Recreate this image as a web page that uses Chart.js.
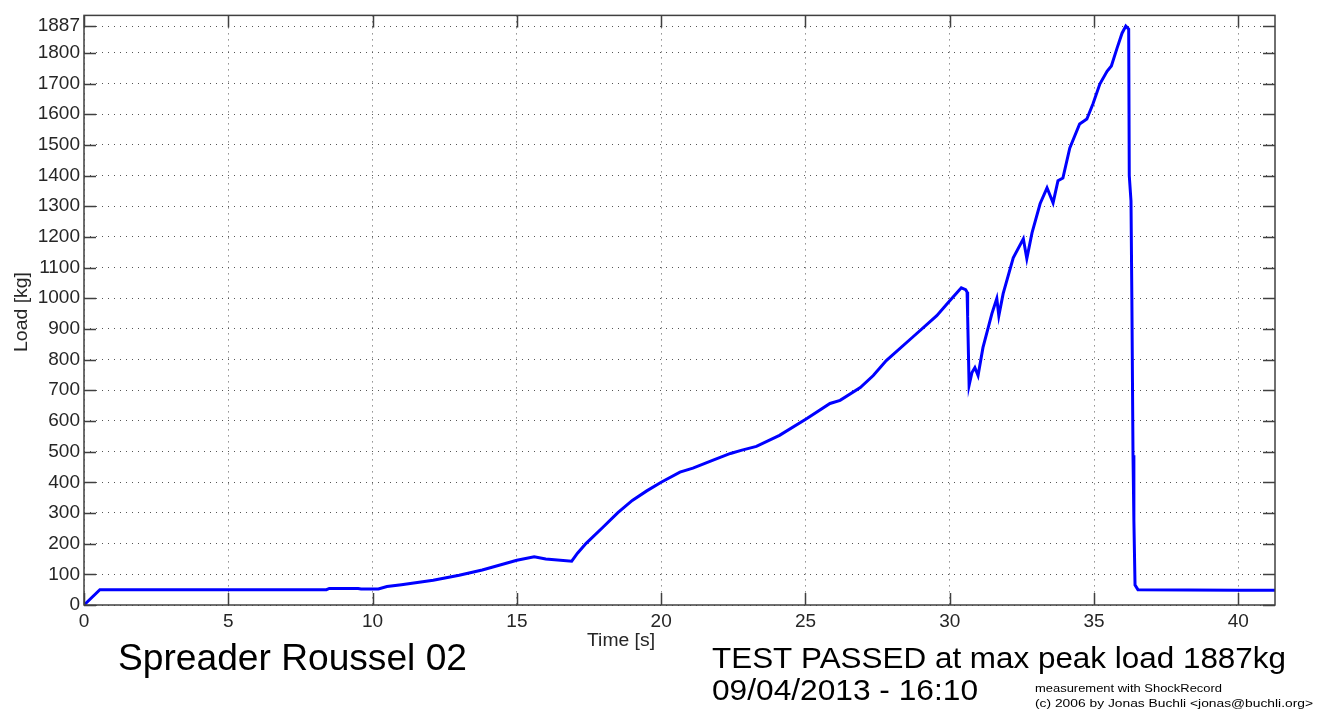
<!DOCTYPE html>
<html lang="en">
<head>
    <meta charset="UTF-8">
    <title>Spreader Roussel 02</title>
    <script src="https://cdn.jsdelivr.net/npm/chart.js"></script>
    <style>
        html, body { margin: 0; padding: 0; background: #fff; }
        #wrap { position: relative; width: 1317px; height: 711px; }
    </style>
</head>
<body>
    <div id="wrap">
        <canvas id="loadChart"></canvas>
    </div>

    <script>
        const timeS = [0, 0.55, 8.4, 8.5, 9.5, 9.6, 10.2, 10.5, 11.0, 12.1, 13.0, 13.8, 15.0, 15.6, 16.0, 16.9,
            17.1, 17.4, 18.0, 18.5, 19.0, 19.5, 20.0, 20.65, 21.1, 21.8, 22.4, 22.8, 23.3, 24.1, 25.05,
            25.85, 26.2, 26.9, 27.35, 27.8, 28.7, 29.55, 30.0, 30.4, 30.55, 30.6, 30.62, 30.67, 30.77,
            30.87, 30.98, 31.15, 31.46, 31.63, 31.7, 31.85, 32.2, 32.55, 32.67, 32.85, 33.13, 33.37,
            33.58, 33.75, 33.92, 34.16, 34.5, 34.75, 34.96, 35.2, 35.45, 35.6, 35.8, 35.97, 36.1, 36.2,
            36.22, 36.28, 36.31, 36.35, 36.38, 36.42, 36.52, 40.0, 41.27];
        const loadKg = [0, 50, 50, 54, 54, 52, 52, 60, 66, 81, 97, 114, 146, 157, 150, 143,
            169, 201, 255, 301, 341, 372, 400, 433, 446, 472, 494, 505, 517, 553, 608,
            657, 667, 709, 748, 797, 872, 943, 992, 1034, 1028, 1020, 940, 716, 758,
            774, 748, 839, 950, 999, 943, 1015, 1132, 1194, 1129, 1213, 1308, 1360,
            1311, 1383, 1392, 1490, 1568, 1584, 1633, 1698, 1740, 1757, 1816, 1864, 1887, 1877,
            1400, 1317, 1000, 488, 276, 65, 50, 48, 48];

        const xTicks = [0, 5, 10, 15, 20, 25, 30, 35, 40];
        const yTicks = [0, 100, 200, 300, 400, 500, 600, 700, 800, 900, 1000, 1100, 1200, 1300,
            1400, 1500, 1600, 1700, 1800, 1887];

        const titleText = 'Spreader Roussel 02';
        const resultText = 'TEST PASSED at max peak load 1887kg';
        const dateText = '09/04/2013 - 16:10';
        const creditLines = ['measurement with ShockRecord', '(c) 2006 by Jonas Buchli <jonas@buchli.org>'];

        const FONT = '"Liberation Sans", Arial, sans-serif';

        // text squeezed/stretched to a given width, like the original figure
        function fitText(ctx, str, x, y, size, width, weight) {
            ctx.save();
            ctx.font = (weight || '') + ' ' + size + 'px ' + FONT;
            const w = ctx.measureText(str).width;
            ctx.translate(x, y);
            if (width) ctx.scale(width / w, 1);
            ctx.fillText(str, 0, 0);
            ctx.restore();
        }

        const frame = {
            id: 'frame',
            afterDraw(chart) {
                const { ctx, chartArea: a, scales } = chart;
                ctx.save();
                ctx.strokeStyle = '#404040';
                ctx.lineWidth = 1.5;
                ctx.strokeRect(a.left, a.top, a.right - a.left, a.bottom - a.top);
                ctx.beginPath();
                xTicks.forEach(v => {
                    const px = Math.round(scales.x.getPixelForValue(v)) + 0.5;
                    ctx.moveTo(px, a.bottom); ctx.lineTo(px, a.bottom - 12);
                    ctx.moveTo(px, a.top); ctx.lineTo(px, a.top + 12);
                });
                yTicks.forEach(v => {
                    const py = Math.round(scales.y.getPixelForValue(v)) + 0.5;
                    ctx.moveTo(a.left, py); ctx.lineTo(a.left + 12, py);
                    ctx.moveTo(a.right, py); ctx.lineTo(a.right - 12, py);
                });
                ctx.stroke();

                ctx.fillStyle = '#262626';
                ctx.textBaseline = 'alphabetic';
                fitText(ctx, 'Time [s]', 587, 646, 18, 68);
                ctx.save();
                ctx.translate(27, 352);
                ctx.rotate(-Math.PI / 2);
                fitText(ctx, 'Load [kg]', 0, 0, 18, 80);
                ctx.restore();

                ctx.fillStyle = '#000';
                fitText(ctx, titleText, 118, 670, 37, 349);
                fitText(ctx, resultText, 712, 668, 29, 574);
                fitText(ctx, dateText, 712, 700, 29, 266);
                fitText(ctx, creditLines[0], 1035, 692, 10, 187);
                fitText(ctx, creditLines[1], 1035, 707, 10, 278);
                ctx.restore();
            }
        };

        const points = timeS.map((t, i) => ({ x: t, y: loadKg[i] }));

        new Chart(document.getElementById('loadChart'), {
            type: 'scatter',
            data: {
                datasets: [{
                    label: 'Load',
                    data: points,
                    showLine: true,
                    borderColor: '#0000ff',
                    borderWidth: 3,
                    pointRadius: 0,
                    tension: 0,
                    fill: false
                }]
            },
            options: {
                responsive: true,
                maintainAspectRatio: false,
                animation: false,
                layout: { padding: { top: 14, right: 42, left: 0, bottom: 0 } },
                plugins: { legend: { display: false }, tooltip: { enabled: false } },
                scales: {
                    x: {
                        type: 'linear',
                        min: 0,
                        max: 41.27,
                        afterBuildTicks: s => { s.ticks = xTicks.map(v => ({ value: v })); },
                        afterFit: s => { s.height = 106; },
                        ticks: { color: '#262626', padding: 5, font: { family: FONT, size: 19 }, callback: v => String(v) },
                        grid: { color: '#555', lineWidth: 1, drawTicks: false },
                        border: { display: false, dash: [1, 5] }
                    },
                    y: {
                        min: 0,
                        max: 1922,
                        afterBuildTicks: s => { s.ticks = yTicks.map(v => ({ value: v })); },
                        afterFit: s => { s.width = 84; },
                        ticks: { color: '#262626', padding: 4, font: { family: FONT, size: 19 }, callback: v => String(v) },
                        grid: { color: '#555', lineWidth: 1, drawTicks: false },
                        border: { display: false, dash: [1, 5] }
                    }
                }
            },
            plugins: [frame]
        });
    </script>
</body>
</html>
